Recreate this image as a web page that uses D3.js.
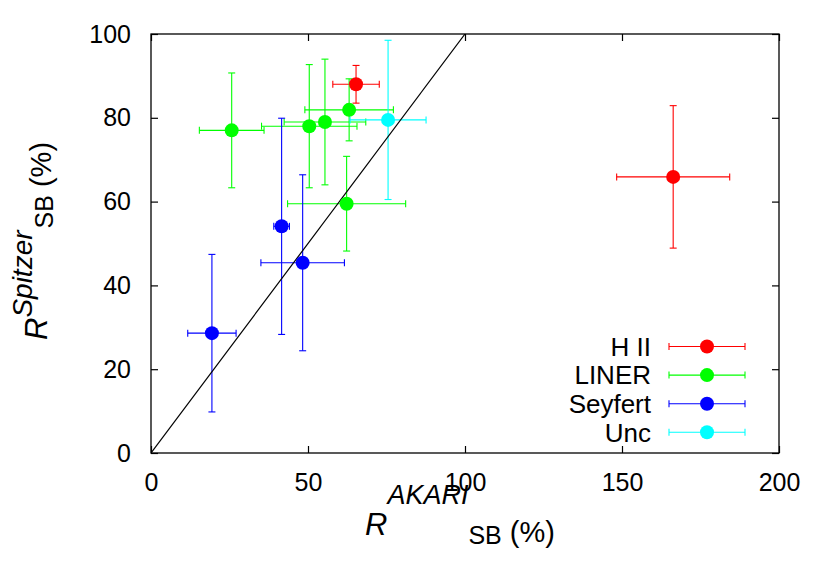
<!DOCTYPE html>
<html>
<head>
<meta charset="utf-8">
<script src="https://cdn.jsdelivr.net/npm/d3@7"></script>
<style>
  body { margin: 0; background: #fff; }
  svg { display: block; font-family: "Liberation Sans", Arial, sans-serif; }
</style>
</head>
<body>
<div id="chart"></div>
<script>
// classes shown in the legend, in order
const classes = ['H II', 'LINER', 'Seyfert', 'Unc'];
const classColors = ['#ff0000', '#00ff00', '#0000ff', '#00ffff'];

// R_SB (AKARI) vs R_SB (Spitzer), with errors, per class
const hiiX = [65.3, 166.3], hiiXerr = [7.4, 18.0];
const hiiY = [88.0, 65.9], hiiYerr = [4.5, 17.0];

const linerX = [25.7, 50.4, 55.4, 63.1, 62.3], linerXerr = [10.3, 15.2, 13.0, 14.1, 18.8];
const linerY = [77.0, 78.0, 79.0, 81.9, 59.5], linerYerr = [13.7, 14.7, 15.0, 7.4, 11.3];

const seyX = [19.4, 41.6, 48.3], seyXerr = [7.7, 2.5, 13.3];
const seyY = [28.6, 54.1, 45.4], seyYerr = [18.8, 25.8, 21.0];

const uncX = [75.5], uncXerr = [12.1];
const uncY = [79.5], uncYerr = [19.0];

const xTicks = [0, 50, 100, 150, 200];
const yTicks = [0, 20, 40, 60, 80, 100];

const W = 830, H = 573;
const margin = {left: 151, right: 51, top: 34, bottom: 120};
const iw = W - margin.left - margin.right;
const ih = H - margin.top - margin.bottom;

const x = d3.scaleLinear().domain([0, 200]).range([0, iw]);
const y = d3.scaleLinear().domain([0, 100]).range([ih, 0]);

const svg = d3.select('#chart').append('svg')
  .attr('width', W).attr('height', H);
const g = svg.append('g').attr('transform', `translate(${margin.left},${margin.top})`);

const zip = (xs, xe, ys, ye) => xs.map((v, i) => ({x: v, xe: xe[i], y: ys[i], ye: ye[i]}));
const groups = [
  zip(hiiX, hiiXerr, hiiY, hiiYerr),
  zip(linerX, linerXerr, linerY, linerYerr),
  zip(seyX, seyXerr, seyY, seyYerr),
  zip(uncX, uncXerr, uncY, uncYerr)
];

// axes: inward ticks, mirrored
const tk = 7;
const styleAxis = sel => {
  sel.select('.domain').remove();
  sel.selectAll('line').attr('stroke', '#000').attr('stroke-width', 1.2);
  sel.selectAll('text').attr('fill', '#000').attr('font-size', 25);
};
g.append('g').attr('transform', `translate(0,${ih})`)
  .call(d3.axisBottom(x).tickValues(xTicks).tickSize(-tk).tickPadding(20))
  .call(styleAxis);
g.append('g')
  .call(d3.axisTop(x).tickValues(xTicks).tickSize(-tk).tickFormat(''))
  .call(styleAxis);
g.append('g')
  .call(d3.axisLeft(y).tickValues(yTicks).tickSize(-tk).tickPadding(20))
  .call(styleAxis);
g.append('g').attr('transform', `translate(${iw},0)`)
  .call(d3.axisRight(y).tickValues(yTicks).tickSize(-tk).tickFormat(''))
  .call(styleAxis);

svg.append('defs').append('clipPath').attr('id', 'clip')
  .append('rect').attr('width', iw).attr('height', ih);
const plot = g.append('g').attr('clip-path', 'url(#clip)');

// error bars
const cap = 3.5;
groups.forEach((pts, k) => {
  const col = classColors[k];
  const eb = plot.append('g').attr('stroke', col).attr('stroke-width', 1.1).attr('fill', 'none');
  pts.forEach(d => {
    const x0 = x(d.x - d.xe), x1 = x(d.x + d.xe), cy = y(d.y);
    const y0 = y(d.y - d.ye), y1 = y(d.y + d.ye), cx = x(d.x);
    eb.append('line').attr('x1', x0).attr('x2', x1).attr('y1', cy).attr('y2', cy);
    eb.append('line').attr('x1', x0).attr('x2', x0).attr('y1', cy - cap).attr('y2', cy + cap);
    eb.append('line').attr('x1', x1).attr('x2', x1).attr('y1', cy - cap).attr('y2', cy + cap);
    eb.append('line').attr('x1', cx).attr('x2', cx).attr('y1', y0).attr('y2', y1);
    eb.append('line').attr('x1', cx - cap).attr('x2', cx + cap).attr('y1', y0).attr('y2', y0);
    eb.append('line').attr('x1', cx - cap).attr('x2', cx + cap).attr('y1', y1).attr('y2', y1);
  });
});

// one-to-one line
plot.append('line')
  .attr('x1', x(0)).attr('y1', y(0)).attr('x2', x(100)).attr('y2', y(100))
  .attr('stroke', '#000').attr('stroke-width', 1.2);

groups.forEach((pts, k) => {
  plot.append('g').selectAll('circle').data(pts).enter().append('circle')
    .attr('cx', d => x(d.x)).attr('cy', d => y(d.y)).attr('r', 7)
    .attr('fill', classColors[k]);
});

// frame
g.append('rect').attr('width', iw).attr('height', ih)
  .attr('fill', 'none').attr('stroke', '#000').attr('stroke-width', 1.3);

// legend
const leg = svg.append('g');
classes.forEach((c, i) => {
  const ly = 346.5 + i * 28.6;
  leg.append('text').attr('x', 651).attr('y', ly).attr('dy', '0.36em')
    .attr('text-anchor', 'end').attr('font-size', 26).text(c);
  const lg = leg.append('g').attr('stroke', classColors[i]).attr('stroke-width', 1.1);
  lg.append('line').attr('x1', 669).attr('x2', 745).attr('y1', ly).attr('y2', ly);
  lg.append('line').attr('x1', 669).attr('x2', 669).attr('y1', ly - cap).attr('y2', ly + cap);
  lg.append('line').attr('x1', 745).attr('x2', 745).attr('y1', ly - cap).attr('y2', ly + cap);
  leg.append('circle').attr('cx', 707).attr('cy', ly).attr('r', 7).attr('fill', classColors[i]);
});

// x axis label: R^{AKARI}_{SB} (%)
const xl = svg.append('text').attr('x', 365).attr('y', 535).attr('fill', '#000');
xl.append('tspan').attr('font-size', 31).attr('font-style', 'italic').text('R');
xl.append('tspan').attr('font-size', 27).attr('font-style', 'italic').attr('dy', -31).text('AKARI');
xl.append('tspan').attr('font-size', 25).attr('dy', 40).attr('dx', 0).text('SB');
xl.append('tspan').attr('font-size', 29).attr('dy', -2).text(' (%)');

// y axis label: R^{Spitzer}_{SB} (%)
const yl = svg.append('text').attr('transform', 'translate(47,340) rotate(-90)').attr('fill', '#000');
yl.append('tspan').attr('font-size', 31).attr('font-style', 'italic').text('R');
yl.append('tspan').attr('font-size', 28).attr('font-style', 'italic').attr('dy', -15).text('Spitzer');
yl.append('tspan').attr('font-size', 25).attr('dy', 21).attr('dx', 2).text('SB');
yl.append('tspan').attr('font-size', 29).attr('dy', -2).text(' (%)');
</script>
</body>
</html>
